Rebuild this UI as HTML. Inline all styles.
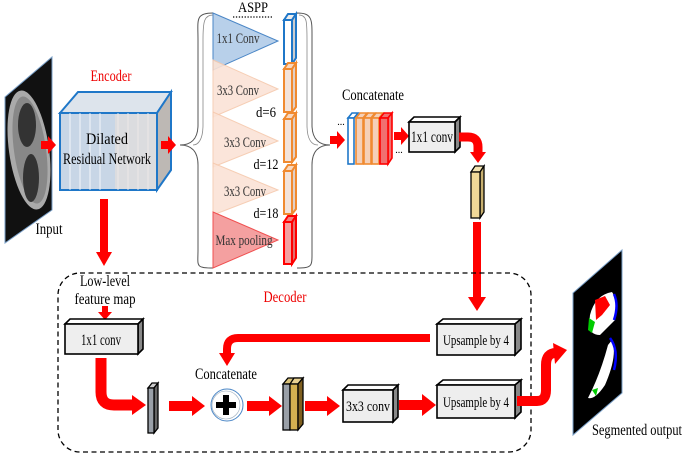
<!DOCTYPE html>
<html><head><meta charset="utf-8"><style>
html,body{margin:0;padding:0;background:#fff;}
svg{display:block;}
text{font-family:"Liberation Serif",serif;}
</style></head><body>
<svg width="685" height="454" viewBox="0 0 685 454" xmlns="http://www.w3.org/2000/svg">

<polygon points="5,97 52,57 52,210 5,243" fill="#111" stroke="#7aa0c8" stroke-width="1"/>
<ellipse cx="29" cy="150" rx="20" ry="60" fill="#aaa" transform="rotate(-8 29 150)"/>
<ellipse cx="30" cy="150" rx="16" ry="54" fill="#888" transform="rotate(-8 30 150)"/>
<ellipse cx="27" cy="125" rx="9" ry="22" fill="#333"/>
<ellipse cx="31" cy="178" rx="8" ry="24" fill="#333"/>
<text x="49" y="234" font-size="16" text-anchor="middle" textLength="27" lengthAdjust="spacingAndGlyphs">Input</text>

<polygon points="41,141 48,141 48,136 56,145 48,154 48,149 41,149" fill="#f00"/>

<text x="111" y="81" font-size="16" fill="#e00" text-anchor="middle" textLength="41" lengthAdjust="spacingAndGlyphs">Encoder</text>
<polygon points="60,113 78,92 171,92 157,113" fill="#dde4ec" stroke="#1f77c8" stroke-width="2"/>
<polygon points="157,113 171,92 171,170 157,190" fill="#bdb8b4" stroke="#1f77c8" stroke-width="2"/>
<rect x="60" y="113" width="97" height="77" fill="#c8d6e6" stroke="#1f77c8" stroke-width="2"/>
<g stroke="#fff" stroke-width="1" opacity="0.8">
<line x1="70" y1="113" x2="70" y2="190"/><line x1="80" y1="113" x2="80" y2="190"/><line x1="90" y1="113" x2="90" y2="190"/><line x1="100" y1="113" x2="100" y2="190"/>
<line x1="118" y1="113" x2="118" y2="190"/><line x1="128" y1="113" x2="128" y2="190"/><line x1="138" y1="113" x2="138" y2="190"/><line x1="148" y1="113" x2="148" y2="190"/>
</g>
<rect x="115" y="114" width="41" height="75" fill="#e8e0da" opacity="0.6"/>
<text x="107" y="144" font-size="16" text-anchor="middle" textLength="42" lengthAdjust="spacingAndGlyphs">Dilated</text>
<text x="107" y="164" font-size="16" text-anchor="middle" textLength="88" lengthAdjust="spacingAndGlyphs">Residual Network</text>

<polygon points="161,141 168,141 168,136 176,145 168,154 168,149 161,149" fill="#f00"/>

<rect x="100" y="199" width="8" height="55" fill="#f00"/>
<polygon points="96,252 112,252 104,266" fill="#f00"/>

<path d="M213,13 C195,13 198,20 198,40 L198,125 C198,140 190,145 180,145 C190,145 198,150 198,165 L198,250 C198,266 195,268 213,268" fill="none" stroke="#555" stroke-width="1"/>
<path d="M213,15 C204,15 203,22 203,40 L203,125 C203,140 198,145 193,145" fill="none" stroke="#888" stroke-width="0.8"/>

<text x="253" y="12" font-size="15" text-anchor="middle" textLength="30" lengthAdjust="spacingAndGlyphs">ASPP</text>
<line x1="233" y1="17" x2="273" y2="17" stroke="#000" stroke-width="1.3" stroke-dasharray="1.3,1.6"/>
<polygon points="213,13 278,41 213,70" fill="#b8d0ea" stroke="#4a86c6" stroke-width="1"/>
<polygon points="213,60 278,89 213,117" fill="#fbe3d6" stroke="#f6c9ad" stroke-width="1" opacity="0.9"/>
<polygon points="213,112 278,141 213,167" fill="#fbe3d6" stroke="#f6c9ad" stroke-width="1" opacity="0.9"/>
<polygon points="213,163 278,190 213,215" fill="#fbe3d6" stroke="#f6c9ad" stroke-width="1" opacity="0.9"/>
<polygon points="213,212 278,240 213,268" fill="#f4a0a0" stroke="#f05050" stroke-width="1"/>
<g font-size="14.5" text-anchor="middle" fill="#333">
<text x="238" y="43" textLength="43" lengthAdjust="spacingAndGlyphs">1x1 Conv</text>
<text x="238" y="95" textLength="42" lengthAdjust="spacingAndGlyphs">3x3 Conv</text>
<text x="245" y="147" textLength="42" lengthAdjust="spacingAndGlyphs">3x3 Conv</text>
<text x="245" y="196" textLength="42" lengthAdjust="spacingAndGlyphs">3x3 Conv</text>
<text x="244" y="245" textLength="57" lengthAdjust="spacingAndGlyphs">Max pooling</text>
</g>
<g font-size="14.5" text-anchor="middle">
<text x="266" y="117" textLength="20" lengthAdjust="spacingAndGlyphs">d=6</text>
<text x="266" y="169" textLength="25" lengthAdjust="spacingAndGlyphs">d=12</text>
<text x="266" y="218" textLength="25" lengthAdjust="spacingAndGlyphs">d=18</text>
</g>

<g stroke-width="2">
<polygon points="284,20 288,14 296,14 292,20" fill="#eee" stroke="#1f77c8"/>
<polygon points="292,20 296,14 296,58 292,64" fill="#ccc" stroke="#1f77c8"/>
<rect x="284" y="20" width="8" height="44" fill="#fff" stroke="#1f77c8"/>
<g stroke="#f08a30">
<polygon points="284,69 288,63 296,63 292,69" fill="#f8d8c0"/><polygon points="292,69 296,63 296,107 292,112" fill="#e0d0c8"/><rect x="284" y="69" width="8" height="43" fill="#f3e3da"/>
<polygon points="284,119 288,113 296,113 292,119" fill="#f8d8c0"/><polygon points="292,119 296,113 296,157 292,162" fill="#e0d0c8"/><rect x="284" y="119" width="8" height="43" fill="#f3e3da"/>
<polygon points="284,171 288,165 296,165 292,171" fill="#f8d8c0"/><polygon points="292,171 296,165 296,209 292,214" fill="#e0d0c8"/><rect x="284" y="171" width="8" height="43" fill="#f3e3da"/>
</g>
<g stroke="#f00">
<polygon points="284,222 288,216 296,216 292,222" fill="#f08080"/><polygon points="292,222 296,216 296,258 292,264" fill="#e07070"/><rect x="284" y="222" width="8" height="42" fill="#f4a0a0"/>
</g>
</g>

<path d="M297,13 C313,13 312,20 312,40 L312,125 C312,140 320,145 330,145 C320,145 312,150 312,165 L312,250 C312,266 313,268 297,268" fill="none" stroke="#555" stroke-width="1"/>
<path d="M299,15 C307,15 307,22 307,40 L307,125 C307,140 312,145 318,145" fill="none" stroke="#888" stroke-width="0.8"/>

<polygon points="330,136 337,136 337,131 345,140 337,149 337,144 330,144" fill="#f00"/>

<text x="373" y="100" font-size="15.5" text-anchor="middle" textLength="62" lengthAdjust="spacingAndGlyphs">Concatenate</text>
<text x="341" y="125" font-size="10" text-anchor="middle">...</text>
<text x="399" y="153" font-size="10" text-anchor="middle">...</text>
<g stroke-width="1.6">
<polygon points="348,118 352,113 358,113 354,118" fill="#fff" stroke="#1f77c8"/>
<rect x="348" y="118" width="6" height="46" fill="#fff" stroke="#1f77c8"/>
<g stroke="#f08a30" fill="#f5d0b8">
<polygon points="356,118 360,113 367,113 363,118"/><rect x="356" y="118" width="7" height="46"/>
<polygon points="364,118 368,113 375,113 371,118"/><rect x="364" y="118" width="7" height="46"/>
<polygon points="372,118 376,113 383,113 379,118"/><rect x="372" y="118" width="7" height="46"/>
</g>
<g stroke="#f00" fill="#f07070">
<polygon points="380,118 384,113 392,113 388,118"/><polygon points="388,118 392,113 392,158 388,164"/><rect x="380" y="118" width="8" height="46"/>
</g>
</g>
<polygon points="394,132 401,132 401,127 409,136 401,145 401,140 394,140" fill="#f00"/>

<g stroke="#000" stroke-width="1.6">
<polygon points="409,122 414,117 460,117 455,122" fill="#fff"/>
<polygon points="455,122 460,117 460,147 455,152" fill="#888"/>
<rect x="409" y="122" width="46" height="30" fill="#eee"/>
</g>
<text x="432" y="142" font-size="15.5" text-anchor="middle" textLength="42" lengthAdjust="spacingAndGlyphs">1x1 conv</text>
<path d="M459,137 L468,137 Q478,137 478,147 L478,154" fill="none" stroke="#f00" stroke-width="9"/>
<polygon points="470,152 486,152 478,163" fill="#f00"/>
<g stroke="#000" stroke-width="1.3">
<polygon points="471,172 475,166 484,166 480,172" fill="#f3e3b0"/>
<polygon points="480,172 484,166 484,212 480,218" fill="#c8b070"/>
<rect x="471" y="172" width="9" height="46" fill="#f0d898"/>
</g>
<rect x="473" y="222" width="8" height="78" fill="#f00"/>
<polygon points="468,297 486,297 477,311" fill="#f00"/>

<rect x="58" y="273" width="473" height="179" rx="22" ry="22" fill="none" stroke="#000" stroke-width="1.3" stroke-dasharray="5,3.5"/>
<text x="285" y="302" font-size="16" fill="#e00" text-anchor="middle" textLength="43" lengthAdjust="spacingAndGlyphs">Decoder</text>
<rect x="78" y="275" width="58" height="34" fill="#fff"/>
<text x="105" y="286" font-size="15.5" text-anchor="middle" textLength="50" lengthAdjust="spacingAndGlyphs">Low-level</text>
<text x="105" y="304" font-size="15.5" text-anchor="middle" textLength="61" lengthAdjust="spacingAndGlyphs">feature map</text>
<rect x="102" y="306" width="6" height="7" fill="#f00"/>
<polygon points="98,312 112,312 105,320" fill="#f00"/>

<g stroke="#000" stroke-width="1.6">
<polygon points="65,324 70,319 143,319 138,324" fill="#fff"/>
<polygon points="138,324 143,319 143,349 138,354" fill="#888"/>
<rect x="65" y="324" width="73" height="30" fill="#eee"/>
</g>
<text x="101" y="345" font-size="15.5" text-anchor="middle" textLength="40" lengthAdjust="spacingAndGlyphs">1x1 conv</text>

<g stroke="#000" stroke-width="1.6">
<polygon points="437,324 443,319 521,319 515,324" fill="#fff"/>
<polygon points="515,324 521,319 521,349 515,355" fill="#888"/>
<rect x="437" y="324" width="78" height="31" fill="#eee"/>
</g>
<text x="476" y="345" font-size="15" text-anchor="middle" textLength="66" lengthAdjust="spacingAndGlyphs">Upsample by 4</text>

<g stroke="#000" stroke-width="1.6">
<polygon points="437,385 443,380 521,380 515,385" fill="#fff"/>
<polygon points="515,385 521,380 521,412 515,418" fill="#888"/>
<rect x="437" y="385" width="78" height="33" fill="#eee"/>
</g>
<text x="476" y="407" font-size="15" text-anchor="middle" textLength="66" lengthAdjust="spacingAndGlyphs">Upsample by 4</text>

<path d="M430,338 L238,338 Q227,338 227,349 L227,355" fill="none" stroke="#f00" stroke-width="8"/>
<polygon points="219,353 235,353 227,366" fill="#f00"/>
<text x="226" y="379" font-size="15.5" text-anchor="middle" textLength="62" lengthAdjust="spacingAndGlyphs">Concatenate</text>

<path d="M101,358 L101,392 Q101,405 114,405 L134,405" fill="none" stroke="#f00" stroke-width="11"/>
<polygon points="132,395 146,405 132,415" fill="#f00"/>
<g stroke="#000" stroke-width="1.3">
<polygon points="148,388 152,383 158,383 154,388" fill="#ccc"/>
<polygon points="154,388 158,383 158,428 154,433" fill="#666"/>
<rect x="148" y="388" width="6" height="45" fill="#9aa0a8"/>
</g>
<polygon points="169,401 192,401 192,396 205,406 192,416 192,411 169,411" fill="#f00"/>
<circle cx="227" cy="405" r="16" fill="#fff" stroke="#4a86c6" stroke-width="1"/>
<circle cx="226" cy="405" r="14" fill="none" stroke="#9ab" stroke-width="0.6"/>
<rect x="223" y="395" width="6" height="20" fill="#000"/>
<rect x="216" y="402" width="20" height="6" fill="#000"/>
<polygon points="247,401 269,401 269,396 282,406 269,416 269,411 247,411" fill="#f00"/>
<g stroke="#000" stroke-width="1.3">
<polygon points="283,384 288,378 303,378 298,384" fill="#d9c27a"/>
<rect x="283" y="384" width="7" height="46" fill="#9aa0a8"/>
<polygon points="290,384 294,378 303,378 298,384" fill="#e8d090"/>
<rect x="290" y="384" width="8" height="46" fill="#d4b050"/>
<polygon points="298,384 303,378 303,424 298,430" fill="#806020"/>
</g>
<polygon points="305,401 327,401 327,396 340,406 327,416 327,411 305,411" fill="#f00"/>
<g stroke="#000" stroke-width="1.6">
<polygon points="343,390 348,385 398,385 393,390" fill="#fff"/>
<polygon points="393,390 398,385 398,417 393,422" fill="#888"/>
<rect x="343" y="390" width="50" height="32" fill="#eee"/>
</g>
<text x="368" y="411" font-size="15" text-anchor="middle" textLength="44" lengthAdjust="spacingAndGlyphs">3x3 conv</text>
<polygon points="399,400 422,400 422,394 436,405 422,416 422,410 399,410" fill="#f00"/>

<path d="M517,401 L537,401 Q546,401 546,390 L546,365 Q546,353 556,353" fill="none" stroke="#f00" stroke-width="10"/>
<polygon points="553,343 567,350 555,364" fill="#f00"/>

<polygon points="573,293 622,250 622,393 573,435" fill="#000" stroke="#7aa0c8" stroke-width="1"/>
<path d="M590,315 Q595,295 612,292 Q618,300 615,320 L600,335 Q590,335 589,325 Z" fill="#fff"/>
<path d="M595,300 L605,296 L610,305 L602,315 L596,320 Z" fill="#f00"/>
<path d="M614,294 Q619,305 614,320" fill="none" stroke="#00f" stroke-width="2.5"/>
<path d="M589,318 L595,322 L592,333 L588,330 Z" fill="#0c0"/>
<path d="M612,340 Q618,355 605,385 Q595,400 588,398 Q600,375 608,345 Z" fill="#fff"/>
<path d="M610,338 Q619,350 614,370" fill="none" stroke="#00f" stroke-width="2.5"/>
<path d="M592,390 L598,388 L596,396 Z" fill="#0c0"/>
<text x="637" y="435" font-size="15.5" text-anchor="middle" textLength="90" lengthAdjust="spacingAndGlyphs">Segmented output</text>
</svg>
</body></html>
